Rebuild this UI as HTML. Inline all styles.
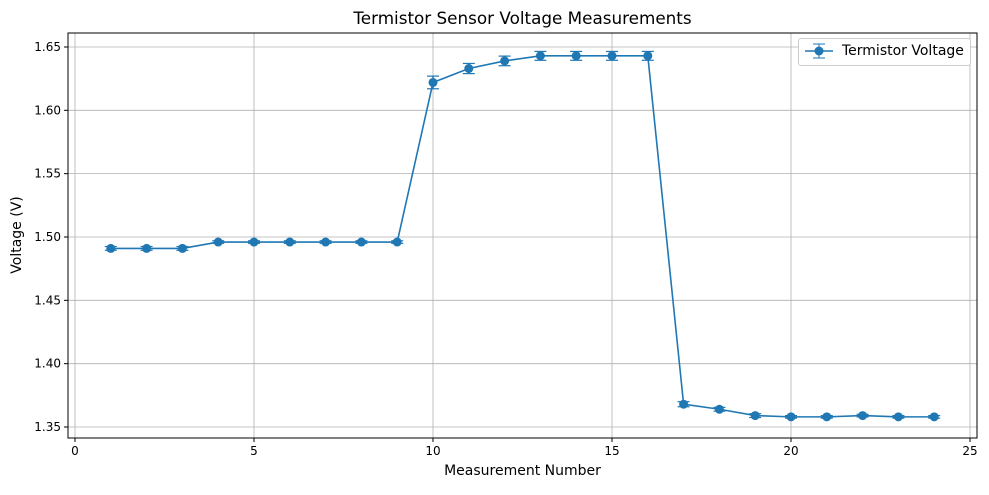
<!DOCTYPE html>
<html><head><meta charset="utf-8"><style>
body{margin:0;background:#fff;font-family:"Liberation Sans","DejaVu Sans",sans-serif;}
svg text{font-family:"DejaVu Sans","Liberation Sans",sans-serif;}
</style></head><body>
<svg id="chart" width="989" height="490"></svg>
<script>
const xValues=[1,2,3,4,5,6,7,8,9,10,11,12,13,14,15,16,17,18,19,20,21,22,23,24];
const voltages=[1.491,1.491,1.491,1.496,1.496,1.496,1.496,1.496,1.496,1.622,1.633,1.639,1.643,1.643,1.643,1.643,1.368,1.364,1.359,1.358,1.358,1.359,1.358,1.358];
const errors=[0.0015,0.0015,0.0015,0.001,0.001,0.001,0.001,0.001,0.001,0.005,0.004,0.0038,0.0035,0.0035,0.0035,0.0035,0.002,0.0015,0.0015,0.001,0.001,0.001,0.001,0.001];
const xTicks=[0,5,10,15,20,25];
const yTicks=[1.35,1.40,1.45,1.50,1.55,1.60,1.65];
const L=68,R=977,T=33,B=438;
const xs=v=>75+(v-0)*35.8;
const ys=v=>427-(v-1.35)*1266.7;
const svg=document.getElementById('chart');
const NS='http://www.w3.org/2000/svg';
function mk(tag,attrs,parent){const e=document.createElementNS(NS,tag);for(const k in attrs)e.setAttribute(k,attrs[k]);(parent||svg).appendChild(e);return e;}
xTicks.forEach(t=>{const g=mk('line',{x1:xs(t),x2:xs(t),y1:T,y2:B,stroke:'#b0b0b0','stroke-width':0.8});
});
yTicks.forEach(t=>{const g=mk('line',{x1:L,x2:R,y1:ys(t),y2:ys(t),stroke:'#b0b0b0','stroke-width':0.8});
});
xTicks.forEach(t=>{mk('line',{x1:xs(t),x2:xs(t),y1:B,y2:B+4,stroke:'#000'});
const tx=mk('text',{x:xs(t),y:B+17,'text-anchor':'middle','font-size':12});tx.textContent=t;
});
yTicks.forEach(t=>{mk('line',{x1:L-4,x2:L,y1:ys(t),y2:ys(t),stroke:'#000'});
const tx=mk('text',{x:L-7,y:ys(t)+4,'text-anchor':'end','font-size':12});tx.textContent=t.toFixed(2);
});
const c='#1f77b4';
const line=mk('polyline',{points:xValues.map((x,i)=>xs(x)+','+ys(voltages[i])).join(' '),fill:'none',stroke:c,'stroke-width':1.6});

xValues.forEach((x,i)=>{const cx=xs(x),y1=ys(voltages[i]+errors[i]),y2=ys(voltages[i]-errors[i]);
const g=mk('g',{});
mk('line',{x1:cx,x2:cx,y1:y1,y2:y2,stroke:c,'stroke-width':1.5},g);
mk('line',{x1:cx-6,x2:cx+6,y1:y1,y2:y1,stroke:c,'stroke-width':1.2},g);
mk('line',{x1:cx-6,x2:cx+6,y1:y2,y2:y2,stroke:c,'stroke-width':1.2},g);
const p=mk('circle',{cx:cx,cy:ys(voltages[i]),r:4.5,fill:c});
});
const f=mk('rect',{x:L,y:T,width:R-L,height:B-T,fill:'none',stroke:'#000','stroke-width':1});

</script>
<div style="position:absolute;left:0;top:0;width:989px;height:490px;pointer-events:none;font-family:'DejaVu Sans','Liberation Sans',sans-serif;">
<div style="position:absolute;left:0;width:1045px;top:8px;text-align:center;font-size:16.8px;">Termistor Sensor Voltage Measurements</div>
<div style="position:absolute;left:0;width:1045px;top:463px;text-align:center;font-size:14px;">Measurement Number</div>
<div style="position:absolute;left:17px;top:235px;font-size:14px;transform:translate(-50%,-50%) rotate(-90deg);white-space:nowrap;">Voltage (V)</div>
<div style="position:absolute;left:798px;top:38px;width:171px;height:26px;border:1px solid #ccc;border-radius:3px;background:#fff;">
<svg width="40" height="26" style="position:absolute;left:4px;top:0">
<line x1="2" x2="30" y1="12" y2="12" stroke="#1f77b4" stroke-width="1.6"/><line x1="16" x2="16" y1="5" y2="19" stroke="#1f77b4"/><line x1="10" x2="22" y1="5" y2="5" stroke="#1f77b4"/><line x1="10" x2="22" y1="19" y2="19" stroke="#1f77b4"/><circle cx="16" cy="12" r="4.5" fill="#1f77b4"/></svg>
<span style="position:absolute;left:43px;top:4px;font-size:14px;">Termistor Voltage</span>
</div>
</div>
</body></html>
